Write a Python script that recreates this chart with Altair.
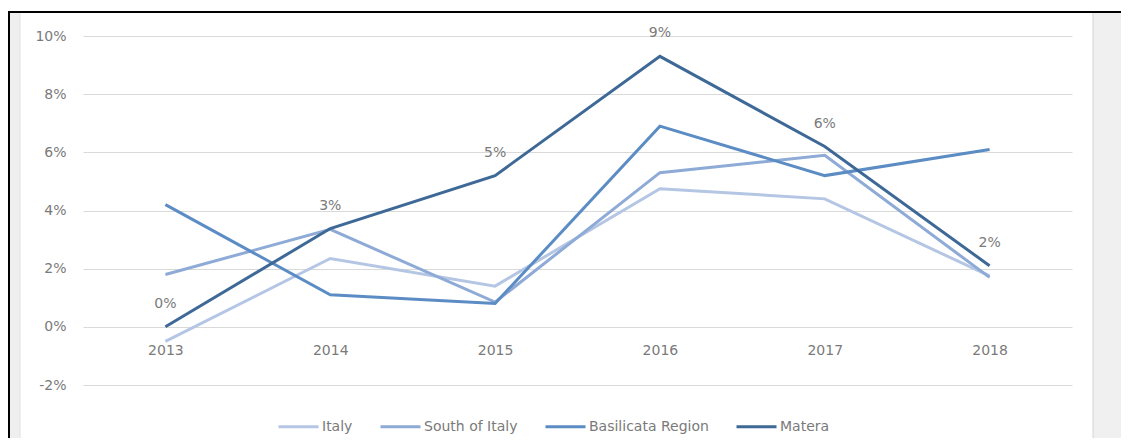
import altair as alt
import pandas as pd

years = ["2013", "2014", "2015", "2016", "2017", "2018"]
series_names = ["Italy", "South of Italy", "Basilicata Region", "Matera"]
italy = [-0.5, 2.35, 1.4, 4.75, 4.4, 1.75]
south_of_italy = [1.8, 3.35, 0.85, 5.3, 5.9, 1.7]
basilicata = [4.2, 1.1, 0.8, 6.9, 5.2, 6.1]
matera = [0.0, 3.38, 5.2, 9.3, 6.2, 2.1]
series_colors = ["#b4c6e4", "#8eaad6", "#5b8cc4", "#3e6997"]
y_ticks = [-2, 0, 2, 4, 6, 8, 10]

rows = []
for name, vals in zip(series_names, [italy, south_of_italy, basilicata, matera]):
    for yr, v in zip(years, vals):
        rows.append({"year": yr, "series": name, "value": v / 100.0})
df = pd.DataFrame(rows)
df_matera = df[df["series"] == "Matera"]

FONT = "DejaVu Sans"
TXT = "#7a7a7a"

x_enc = alt.X(
    "year:O",
    scale=alt.Scale(type="point", padding=0.5),
    axis=alt.Axis(
        title=None, labelAngle=0, domain=False, ticks=False, grid=False,
        offset=-58, labelPadding=16, labelFont=FONT, labelFontSize=14,
        labelColor=TXT,
    ),
)
y_enc = alt.Y(
    "value:Q",
    scale=alt.Scale(domain=[-0.02, 0.10], nice=False, zero=False),
    axis=alt.Axis(
        title=None, values=[t / 100.0 for t in y_ticks], domain=False,
        ticks=False, grid=True, gridColor="#d9d9d9", gridWidth=1,
        labelPadding=17, labelFont=FONT, labelFontSize=14, labelColor=TXT,
        labelExpr="replace(format(datum.value, '.0%'), '\u2212', '-')",
    ),
)

lines = alt.Chart(df).mark_line(strokeWidth=3, strokeJoin="miter").encode(
    x=x_enc,
    y=y_enc,
    color=alt.Color(
        "series:N",
        scale=alt.Scale(domain=series_names, range=series_colors),
        legend=alt.Legend(
            title=None, orient="none", legendX=194, legendY=369,
            direction="horizontal", columns=4, symbolType="stroke",
            symbolSize=1600, symbolStrokeWidth=3, labelFont=FONT,
            labelFontSize=14, labelColor=TXT, columnPadding=21,
            labelOffset=2,
        ),
    ),
    detail="series:N",
)

labels = alt.Chart(df_matera).mark_text(
    dy=-23, font=FONT, fontSize=14, color=TXT, baseline="middle"
).encode(
    x=alt.X("year:O", scale=alt.Scale(type="point", padding=0.5)),
    y=alt.Y("value:Q"),
    text=alt.Text("value:Q", format=".0%"),
)

one = alt.Data(values=[{"k": 1}])
left_strip = alt.Chart(one).mark_rect(color="#efefef").encode(
    x=alt.value(-73), x2=alt.value(-63), y=alt.value(-23), y2=alt.value(410)
)
right_strip = alt.Chart(one).mark_rect(color="#f0f0f0").encode(
    x=alt.value(1010), x2=alt.value(1040), y=alt.value(-23), y2=alt.value(410)
)
right_edge = alt.Chart(one).mark_rule(color="#d4d4d4", strokeWidth=1).encode(
    x=alt.value(1010), y=alt.value(-23), y2=alt.value(410)
)
left_edge = alt.Chart(one).mark_rule(color="#e2e2e2", strokeWidth=1).encode(
    x=alt.value(-63), y=alt.value(-23), y2=alt.value(410)
)
top_border = alt.Chart(one).mark_rule(color="#000000", strokeWidth=2).encode(
    x=alt.value(-75), x2=alt.value(1040), y=alt.value(-24)
)
left_border = alt.Chart(one).mark_rule(color="#000000", strokeWidth=2).encode(
    x=alt.value(-74), y=alt.value(-25), y2=alt.value(410)
)

chart = alt.layer(
    left_strip, right_strip, right_edge, left_edge, top_border, left_border,
    lines, labels,
).properties(
    width=989,
    height=349,
    autosize=alt.AutoSizeParams(type="none"),
    padding={"left": 75, "top": 28, "right": 49, "bottom": 53},
    background="#ffffff",
).configure_view(stroke=None)

chart.save("out.html", embed_options={"renderer": "svg", "actions": False})
